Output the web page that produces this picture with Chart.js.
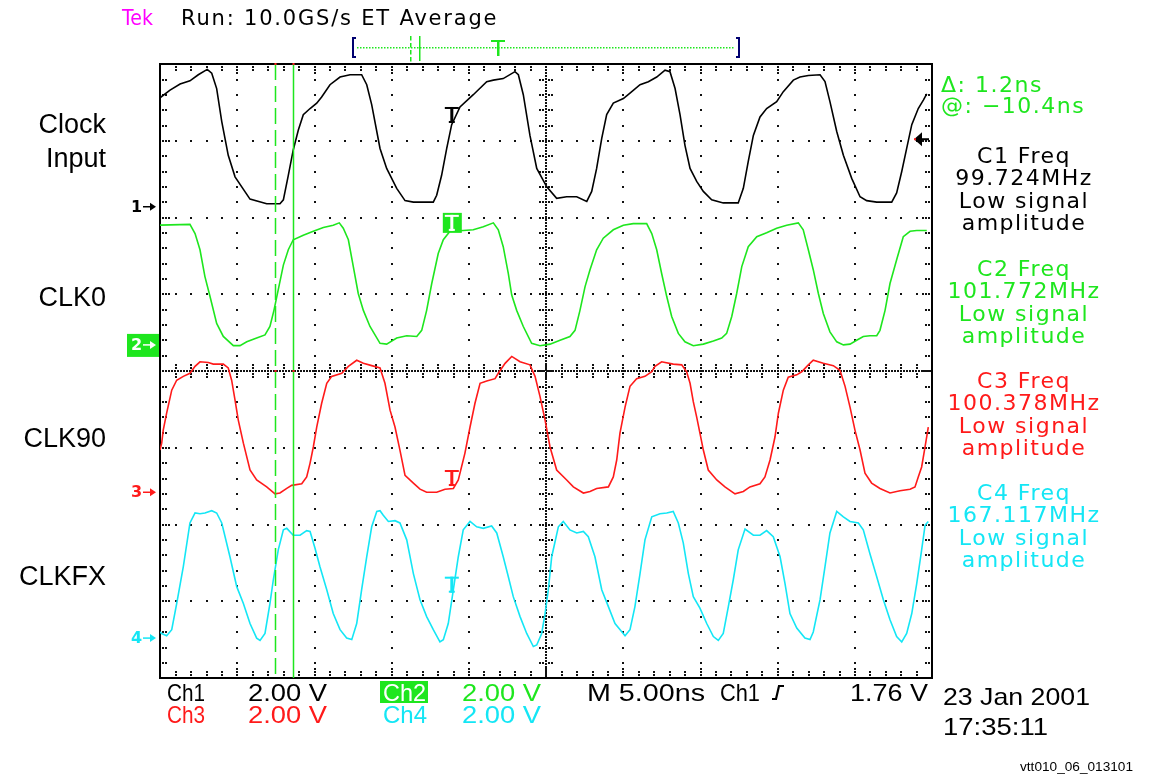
<!DOCTYPE html>
<html>
<head>
<meta charset="utf-8">
<title>vtt010_06_013101</title>
<script src="https://cdn.jsdelivr.net/npm/chart.js@4"></script>
<style>
  html, body { margin: 0; padding: 0; background: #fff; }
  canvas { display: block; }
</style>
</head>
<body>
<canvas id="scope" width="1151" height="777"></canvas>
<script>
// time in ns (5 ns/div, 10 div across), level in screen divisions from the centre line
const clockInputTime = [0, 0.65, 1.30, 1.94, 2.48, 3.06, 3.35, 3.67, 4.00, 4.42, 4.86, 5.83, 6.91, 7.77, 7.99, 8.31, 8.63, 8.96, 9.28, 9.72, 10.15, 10.47, 11.01, 11.66, 12.31, 13.06, 13.39, 13.71, 14.25, 14.68, 15.33, 15.87, 16.41, 17.70, 17.92, 18.24, 18.57, 18.89, 19.43, 20.29, 21.16, 21.59, 22.23, 22.99, 23.21, 23.53, 23.96, 24.40, 25.05, 25.69, 26.34, 26.99, 27.64, 27.96, 28.28, 28.61, 28.93, 29.36, 30.01, 30.44, 31.09, 31.63, 32.17, 32.71, 33.03, 33.36, 33.68, 34.00, 34.33, 34.76, 35.19, 35.73, 36.48, 37.45, 37.78, 38.10, 38.43, 38.86, 39.29, 39.94, 40.37, 41.02, 41.45, 41.99, 42.75, 43.07, 43.39, 43.83, 44.26, 44.80, 45.34, 45.77, 46.42, 47.39, 47.71, 48.04, 48.36, 48.69, 49.11, 49.44, 49.66];
const clockInputDiv = [3.56, 3.66, 3.74, 3.78, 3.86, 3.93, 3.88, 3.68, 3.25, 2.81, 2.53, 2.24, 2.18, 2.18, 2.23, 2.55, 2.88, 3.14, 3.34, 3.42, 3.49, 3.57, 3.73, 3.83, 3.86, 3.86, 3.73, 3.47, 2.90, 2.64, 2.38, 2.22, 2.20, 2.20, 2.29, 2.55, 2.90, 3.21, 3.44, 3.60, 3.77, 3.79, 3.81, 3.90, 3.86, 3.60, 3.07, 2.64, 2.40, 2.25, 2.27, 2.27, 2.21, 2.34, 2.64, 3.03, 3.34, 3.49, 3.55, 3.62, 3.73, 3.77, 3.83, 3.92, 3.90, 3.68, 3.34, 2.94, 2.64, 2.47, 2.34, 2.23, 2.19, 2.19, 2.38, 2.73, 3.07, 3.31, 3.42, 3.51, 3.64, 3.79, 3.83, 3.85, 3.86, 3.77, 3.51, 3.12, 2.81, 2.51, 2.27, 2.22, 2.20, 2.20, 2.32, 2.60, 2.90, 3.21, 3.42, 3.53, 3.61];

const clk0Time = [0, 1.94, 2.27, 2.59, 2.91, 3.24, 3.67, 4.10, 4.75, 5.18, 5.62, 6.26, 6.80, 7.12, 7.38, 7.66, 7.99, 8.31, 8.63, 9.28, 9.93, 10.58, 11.22, 11.61, 11.87, 12.20, 12.52, 12.84, 13.17, 13.60, 14.25, 14.68, 15.33, 15.98, 16.63, 16.95, 17.27, 17.60, 18.02, 18.35, 18.78, 19.64, 20.29, 20.94, 21.59, 21.91, 22.23, 22.56, 22.78, 23.10, 23.53, 24.07, 24.61, 25.26, 25.91, 26.55, 26.88, 27.20, 27.53, 27.85, 28.28, 28.71, 29.36, 30.01, 30.65, 31.52, 31.85, 32.17, 32.49, 32.82, 33.14, 33.57, 34.00, 34.54, 35.19, 35.84, 36.38, 36.70, 37.03, 37.35, 37.68, 38.10, 38.65, 39.29, 39.94, 40.59, 41.34, 41.66, 41.99, 42.31, 42.64, 42.96, 43.39, 43.83, 44.26, 44.69, 45.12, 45.55, 45.98, 46.42, 46.63, 46.96, 47.28, 47.71, 48.14, 48.58, 49.01, 49.66];
const clk0Div = [1.90, 1.91, 1.79, 1.58, 1.23, 0.97, 0.62, 0.45, 0.33, 0.33, 0.38, 0.43, 0.47, 0.58, 0.79, 1.06, 1.38, 1.58, 1.71, 1.77, 1.82, 1.87, 1.90, 1.93, 1.86, 1.71, 1.36, 1.01, 0.79, 0.58, 0.36, 0.35, 0.43, 0.46, 0.45, 0.53, 0.79, 1.14, 1.53, 1.71, 1.82, 1.83, 1.84, 1.88, 1.93, 1.84, 1.62, 1.27, 0.99, 0.79, 0.58, 0.36, 0.33, 0.35, 0.40, 0.45, 0.53, 0.79, 1.10, 1.32, 1.58, 1.73, 1.84, 1.90, 1.92, 1.92, 1.79, 1.58, 1.27, 0.97, 0.71, 0.49, 0.38, 0.33, 0.35, 0.39, 0.43, 0.49, 0.71, 1.01, 1.36, 1.62, 1.75, 1.80, 1.86, 1.90, 1.93, 1.84, 1.58, 1.32, 1.01, 0.75, 0.51, 0.38, 0.34, 0.35, 0.40, 0.45, 0.46, 0.46, 0.53, 0.79, 1.14, 1.45, 1.75, 1.82, 1.83, 1.83];

const clk90Time = [0, 0.11, 0.21, 0.43, 0.76, 1.08, 1.51, 1.94, 2.27, 2.59, 3.13, 3.45, 4.10, 4.42, 4.64, 4.86, 5.07, 5.40, 5.83, 6.26, 6.91, 7.45, 7.77, 8.21, 8.53, 9.18, 9.50, 9.72, 9.93, 10.15, 10.47, 10.80, 11.12, 11.77, 12.20, 12.74, 13.17, 13.71, 14.25, 14.57, 14.90, 15.22, 15.54, 15.87, 16.41, 16.84, 17.27, 17.92, 18.46, 19.00, 19.32, 19.75, 20.08, 20.40, 20.73, 21.16, 21.70, 21.91, 22.35, 22.78, 23.32, 23.96, 24.29, 24.61, 24.94, 25.26, 25.69, 26.34, 26.77, 27.42, 27.85, 28.28, 29.04, 29.36, 29.58, 29.79, 30.12, 30.44, 30.87, 31.41, 31.85, 32.06, 32.49, 33.24, 33.79, 34.11, 34.33, 34.54, 34.76, 34.97, 35.19, 35.51, 36.06, 36.59, 37.24, 37.78, 38.21, 38.86, 39.18, 39.51, 39.83, 40.05, 40.37, 40.69, 41.24, 41.56, 41.99, 42.31, 42.96, 43.61, 44.04, 44.37, 44.69, 45.01, 45.34, 45.66, 46.09, 46.63, 47.28, 47.93, 48.58, 48.90, 49.11, 49.33, 49.55, 49.76];
const clk90Div = [-1.03, -0.94, -0.77, -0.55, -0.25, -0.12, -0.07, -0.03, 0.06, 0.12, 0.11, 0.09, 0.09, 0.04, -0.12, -0.38, -0.64, -0.94, -1.29, -1.42, -1.51, -1.60, -1.59, -1.53, -1.49, -1.47, -1.38, -1.20, -0.99, -0.73, -0.42, -0.16, -0.07, -0.03, 0.06, 0.14, 0.10, 0.07, 0.04, -0.16, -0.51, -0.73, -1.03, -1.36, -1.46, -1.54, -1.58, -1.58, -1.54, -1.53, -1.42, -1.07, -0.73, -0.42, -0.16, -0.13, -0.10, -0.03, 0.10, 0.19, 0.12, 0.08, -0.07, -0.33, -0.64, -0.99, -1.29, -1.42, -1.51, -1.59, -1.57, -1.53, -1.51, -1.38, -1.16, -0.81, -0.47, -0.20, -0.10, -0.07, -0.01, 0.06, 0.12, 0.09, 0.08, -0.01, -0.16, -0.40, -0.60, -0.81, -1.03, -1.29, -1.42, -1.51, -1.60, -1.57, -1.51, -1.47, -1.38, -1.16, -0.86, -0.55, -0.25, -0.08, -0.05, -0.01, 0.08, 0.14, 0.10, 0.07, 0.01, -0.20, -0.47, -0.77, -1.03, -1.33, -1.46, -1.53, -1.59, -1.56, -1.54, -1.51, -1.38, -1.25, -0.99, -0.73];

const clkfxTime = [0, 0.11, 0.43, 0.76, 1.08, 1.51, 1.94, 2.27, 2.59, 2.91, 3.35, 3.67, 4.00, 4.53, 4.97, 5.40, 5.83, 6.26, 6.48, 6.80, 7.12, 7.34, 7.66, 7.99, 8.21, 8.63, 9.07, 9.50, 9.72, 10.04, 10.36, 10.80, 11.22, 11.66, 12.09, 12.42, 12.74, 13.06, 13.39, 13.71, 14.04, 14.25, 14.46, 14.79, 15.22, 15.54, 15.98, 16.41, 16.84, 17.27, 17.70, 18.13, 18.35, 18.67, 19.00, 19.32, 19.64, 20.08, 20.51, 20.94, 21.48, 21.81, 22.23, 22.56, 22.88, 23.32, 23.75, 24.18, 24.40, 24.72, 24.94, 25.15, 25.37, 25.80, 26.12, 26.55, 26.99, 27.42, 27.74, 28.17, 28.61, 29.04, 29.47, 30.12, 30.44, 30.76, 31.09, 31.41, 31.85, 32.38, 32.82, 33.24, 33.57, 33.89, 34.22, 34.54, 34.97, 35.41, 35.84, 36.16, 36.48, 36.81, 37.13, 37.45, 37.89, 38.43, 38.86, 39.29, 39.72, 40.16, 40.48, 40.80, 41.24, 41.77, 42.10, 42.31, 42.75, 43.07, 43.39, 43.83, 44.26, 44.69, 45.23, 45.55, 45.98, 46.42, 46.85, 47.28, 47.71, 48.04, 48.36, 48.69, 49.01, 49.33, 49.55, 49.76];
const clkfxDiv = [-3.40, -3.42, -3.45, -3.37, -3.03, -2.55, -1.98, -1.85, -1.86, -1.85, -1.82, -1.85, -1.98, -2.42, -2.81, -3.03, -3.29, -3.48, -3.51, -3.42, -3.03, -2.72, -2.33, -2.07, -2.05, -2.14, -2.14, -2.08, -2.09, -2.31, -2.55, -2.85, -3.16, -3.37, -3.48, -3.50, -3.29, -2.85, -2.42, -2.03, -1.83, -1.82, -1.88, -1.96, -1.95, -1.98, -2.20, -2.64, -2.98, -3.20, -3.37, -3.53, -3.50, -3.29, -2.85, -2.42, -2.07, -1.96, -2.03, -2.05, -2.02, -2.11, -2.42, -2.68, -2.94, -3.20, -3.42, -3.59, -3.57, -3.42, -3.16, -2.85, -2.42, -2.03, -1.96, -2.07, -2.11, -2.09, -2.16, -2.42, -2.85, -3.07, -3.29, -3.45, -3.37, -3.07, -2.64, -2.20, -1.90, -1.86, -1.85, -1.83, -1.98, -2.24, -2.64, -2.94, -3.09, -3.29, -3.46, -3.51, -3.42, -3.07, -2.72, -2.33, -2.06, -2.14, -2.14, -2.08, -2.16, -2.42, -2.77, -3.16, -3.35, -3.48, -3.50, -3.40, -2.98, -2.55, -2.11, -1.83, -1.90, -1.96, -1.98, -2.07, -2.38, -2.68, -2.98, -3.24, -3.46, -3.53, -3.42, -3.16, -2.77, -2.33, -2.01, -1.96];

const channelNames = ["Ch1", "Ch2", "Ch3", "Ch4"];
const channelColors = ["#000000", "#1ee61e", "#ff1a1a", "#14e6f5"];
const channelGroundDiv = [2.14, 0.34, -1.58, -3.48];
const channelScale = ["2.00 V", "2.00 V", "2.00 V", "2.00 V"];
const channelFreq = ["99.724MHz", "101.772MHz", "100.378MHz", "167.117MHz"];
const triggerMarkDiv = [3.44, 1.93, -1.29, -2.68];
const cursorTimes = [7.45, 8.61];
const triggerTime = 18.9;
const triggerLevelV = 1.76;
const voltsPerDiv = 2.0;
const nsPerDiv = 5;

const traces = [
  [clockInputTime, clockInputDiv],
  [clk0Time, clk0Div],
  [clk90Time, clk90Div],
  [clkfxTime, clkfxDiv]
];

function label(ctx, text, x, y, opt) {
  ctx.save();
  ctx.font = opt.font;
  ctx.fillStyle = opt.color || "#000";
  ctx.textBaseline = opt.base || "middle";
  ctx.letterSpacing = opt.ls || "0px";
  ctx.textAlign = "left";
  const w = ctx.measureText(text).width;
  const sx = opt.width ? opt.width / w : 1;
  let x0 = x;
  if (opt.align === "center") x0 = x - (w * sx) / 2;
  if (opt.align === "right") x0 = x - w * sx;
  ctx.translate(x0, y);
  ctx.scale(sx, 1);
  ctx.fillText(text, 0, 0);
  ctx.restore();
}

function drawT(ctx, x, y, color) {
  ctx.fillStyle = color;
  ctx.fillRect(x - 7, y, 14, 2);
  ctx.fillRect(x - 1.5, y, 3, 16);
  ctx.fillRect(x - 3, y + 14, 6, 2);
}

const graticule = {
  id: "graticule",
  beforeDraw(chart) {
    const ctx = chart.ctx;
    ctx.save();
    ctx.fillStyle = "#fff";
    ctx.fillRect(0, 0, chart.width, chart.height);
    ctx.restore();
  },
  beforeDatasetsDraw(chart) {
    const { ctx, scales } = chart;
    const xs = scales.x, ys = scales.y;
    const left = xs.left, right = xs.right, top = ys.top, bottom = ys.bottom;
    const px = (d) => xs.getPixelForValue(d * nsPerDiv);
    const py = (d) => ys.getPixelForValue(d);
    ctx.save();
    ctx.fillStyle = "#111";
    const dot = (x, y) => ctx.fillRect(Math.round(x - 0.8), Math.round(y - 0.8), 2, 2);
    for (let i = 1; i < 10; i++) {
      if (i === 5) continue;
      for (let k = 0; k <= 40; k++) dot(px(i), py(-4 + k / 5));
    }
    for (let j = -3; j <= 3; j++) {
      if (j === 0) continue;
      for (let k = 0; k <= 50; k++) dot(px(k / 5), py(j));
    }
    // centre cross
    for (let x = left; x <= right; x += 3) dot(x, py(0));
    for (let y = top; y <= bottom; y += 3) dot(px(5), y);
    for (let k = 0; k <= 50; k++) {
      const x = px(k / 5);
      for (const o of [-6, -3, 3, 6]) dot(x, py(0) + o);
    }
    for (let k = 0; k <= 40; k++) {
      const y = py(-4 + k / 5);
      for (const o of [-6, -3, 3, 6]) dot(px(5) + o, y);
    }
    // edge ticks
    for (let k = 0; k <= 50; k++) {
      const x = px(k / 5);
      const n = k % 5 === 0 ? 3 : 2;
      for (let m = 1; m <= n; m++) { dot(x, top + 3 * m); dot(x, bottom - 3 * m); }
    }
    for (let k = 0; k <= 40; k++) {
      const y = py(-4 + k / 5);
      const n = k % 5 === 0 ? 3 : 2;
      for (let m = 1; m <= n; m++) { dot(left + 3 * m, y); dot(right - 3 * m, y); }
    }
    ctx.strokeStyle = "#000";
    ctx.lineWidth = 2;
    ctx.strokeRect(left, top, right - left, bottom - top);
    ctx.restore();
  }
};

const overlay = {
  id: "overlay",
  afterDatasetsDraw(chart) {
    const { ctx, scales } = chart;
    const xs = scales.x, ys = scales.y;
    const green = channelColors[1];
    ctx.save();

    // time cursors
    ctx.strokeStyle = green;
    ctx.lineWidth = 1.5;
    cursorTimes.forEach((t, i) => {
      const x = Math.round(xs.getPixelForValue(t)) + 0.5;
      ctx.setLineDash(i === 0 ? [16, 6] : []);
      ctx.beginPath();
      ctx.moveTo(x, ys.top);
      ctx.lineTo(x, ys.bottom);
      ctx.stroke();
      ctx.fillStyle = "#ff2020";
      ctx.fillRect(x - 1, ys.top - 1, 2, 2);
      ctx.fillRect(x - 1, ys.getPixelForValue(0) - 1, 2, 2);
    });
    ctx.setLineDash([]);

    // trigger position marks on each trace
    const tx = xs.getPixelForValue(triggerTime);
    triggerMarkDiv.forEach((d, i) => {
      const y = ys.getPixelForValue(d);
      if (i === 1) {
        ctx.fillStyle = green;
        ctx.fillRect(tx - 9, y - 10, 19, 20);
        drawT(ctx, tx, y - 8, "#fff");
      } else {
        drawT(ctx, tx, y, channelColors[i]);
      }
    });

    // channel ground markers on the left edge
    channelGroundDiv.forEach((d, i) => {
      const y = ys.getPixelForValue(d);
      let fg = channelColors[i];
      if (i === 1) {
        ctx.fillStyle = green;
        ctx.fillRect(127, y - 11, 32, 23);
        fg = "#fff";
      }
      label(ctx, String(i + 1), 131, y + 1, { font: "bold 16px 'DejaVu Sans'", color: fg });
      ctx.strokeStyle = fg;
      ctx.fillStyle = fg;
      ctx.lineWidth = 1.5;
      ctx.beginPath();
      ctx.moveTo(143, y);
      ctx.lineTo(151, y);
      ctx.stroke();
      ctx.beginPath();
      ctx.moveTo(156, y);
      ctx.lineTo(150, y - 4);
      ctx.lineTo(150, y + 4);
      ctx.closePath();
      ctx.fill();
    });

    // trigger level arrow on the right edge
    const ty = ys.getPixelForValue(channelGroundDiv[0] + triggerLevelV / voltsPerDiv);
    ctx.fillStyle = "#000";
    ctx.beginPath();
    ctx.moveTo(914, ty);
    ctx.lineTo(922, ty - 7);
    ctx.lineTo(922, ty + 7);
    ctx.closePath();
    ctx.fill();
    ctx.fillRect(921, ty - 1, 8, 2);
    ctx.fillStyle = "#ff2020";
    ctx.fillRect(914, ty - 1, 2, 2);
    ctx.restore();
  },
  afterDraw(chart) {
    const ctx = chart.ctx;
    const green = channelColors[1];
    ctx.save();

    // header
    label(ctx, "Tek", 122, 20, { font: "21px 'DejaVu Sans'", color: "#ff00ff", width: 31 });
    label(ctx, "Run: 10.0GS/s ET Average", 181, 20, { font: "21px 'DejaVu Sans'", color: "#000", ls: "1.8px" });

    // record bar
    ctx.fillStyle = "#000070";
    ctx.fillRect(352, 37, 2, 21);
    ctx.fillRect(352, 37, 4, 2);
    ctx.fillRect(352, 56, 4, 2);
    ctx.fillRect(738, 37, 2, 21);
    ctx.fillRect(736, 37, 4, 2);
    ctx.fillRect(736, 56, 4, 2);
    ctx.fillStyle = green;
    for (let x = 357; x < 735; x += 3) ctx.fillRect(x, 47, 1.5, 1.5);
    for (let y = 36; y < 61; y += 7) ctx.fillRect(410, y, 1.5, 4.5);
    ctx.fillRect(419, 36, 1.5, 25);
    ctx.fillRect(491, 40, 14, 2);
    ctx.fillRect(497, 40, 2.5, 16);

    // channel names on the left
    const nameFont = "27px 'Liberation Sans'";
    label(ctx, "Clock", 106, 126, { font: nameFont, align: "right" });
    label(ctx, "Input", 106, 160, { font: nameFont, align: "right" });
    label(ctx, "CLK0", 106, 299, { font: nameFont, align: "right" });
    label(ctx, "CLK90", 106, 440, { font: nameFont, align: "right" });
    label(ctx, "CLKFX", 106, 578, { font: nameFont, align: "right" });

    // cursor readout and measurements on the right
    const panelFont = "22px 'DejaVu Sans'";
    label(ctx, "\u0394: 1.2ns", 941, 86, { font: panelFont, color: green, ls: "1.5px" });
    label(ctx, "@: \u221210.4ns", 941, 107, { font: panelFont, color: green, ls: "1.5px" });
    const blockTop = [157, 270, 382, 494];
    channelFreq.forEach((f, i) => {
      const lines = ["C" + (i + 1) + " Freq", f, "Low signal", "amplitude"];
      lines.forEach((s, k) => {
        label(ctx, s, 1024, blockTop[i] + k * 22.5, { font: panelFont, color: channelColors[i], ls: "1.5px", align: "center" });
      });
    });

    // bottom status lines
    const stFont = "24px 'Liberation Sans'";
    label(ctx, channelNames[0], 167, 701, { font: stFont, base: "alphabetic", width: 38 });
    label(ctx, channelScale[0], 248, 701, { font: stFont, base: "alphabetic", width: 79 });
    ctx.fillStyle = green;
    ctx.fillRect(380, 681, 48, 22);
    label(ctx, channelNames[1], 383, 701, { font: stFont, color: "#fff", base: "alphabetic", width: 43 });
    label(ctx, channelScale[1], 462, 701, { font: stFont, color: green, base: "alphabetic", width: 79 });
    label(ctx, "M 5.00ns", 587, 701, { font: stFont, base: "alphabetic", width: 118 });
    label(ctx, "Ch1", 720, 701, { font: stFont, base: "alphabetic", width: 40 });
    ctx.strokeStyle = "#000";
    ctx.lineWidth = 2.2;
    ctx.beginPath();
    ctx.moveTo(772, 699);
    ctx.lineTo(776, 699);
    ctx.lineTo(779, 686);
    ctx.lineTo(784, 686);
    ctx.stroke();
    label(ctx, "1.76 V", 850, 701, { font: stFont, base: "alphabetic", width: 78 });
    label(ctx, channelNames[2], 167, 723, { font: stFont, color: channelColors[2], base: "alphabetic", width: 38 });
    label(ctx, channelScale[2], 248, 723, { font: stFont, color: channelColors[2], base: "alphabetic", width: 79 });
    label(ctx, channelNames[3], 383, 723, { font: stFont, color: channelColors[3], base: "alphabetic", width: 44 });
    label(ctx, channelScale[3], 462, 723, { font: stFont, color: channelColors[3], base: "alphabetic", width: 79 });
    label(ctx, "23 Jan 2001", 943, 705, { font: stFont, base: "alphabetic", width: 147 });
    label(ctx, "17:35:11", 943, 735, { font: stFont, base: "alphabetic", width: 105 });
    label(ctx, "vtt010_06_013101", 1020, 771, { font: "13px 'Liberation Sans'", base: "alphabetic", width: 113 });
    ctx.restore();
  }
};

const datasets = traces.map(([t, v], i) => ({
  label: channelNames[i],
  data: t.slice(0, Math.min(t.length, v.length)).map((x, k) => ({ x: x, y: v[k] })),
  borderColor: channelColors[i],
  borderWidth: 1.6,
  showLine: true,
  pointRadius: 0,
  fill: false,
  tension: 0
}));

const canvas = document.getElementById("scope");
new Chart(canvas.getContext("2d"), {
  type: "scatter",
  data: { datasets: datasets },
  options: {
    responsive: false,
    animation: false,
    devicePixelRatio: 1,
    layout: { padding: { left: 160, right: 219, top: 64, bottom: 99 } },
    plugins: { legend: { display: false }, tooltip: { enabled: false } },
    scales: {
      x: { type: "linear", min: 0, max: 10 * nsPerDiv, display: false },
      y: { type: "linear", min: -4, max: 4, display: false }
    }
  },
  plugins: [graticule, overlay]
});
</script>
</body>
</html>
